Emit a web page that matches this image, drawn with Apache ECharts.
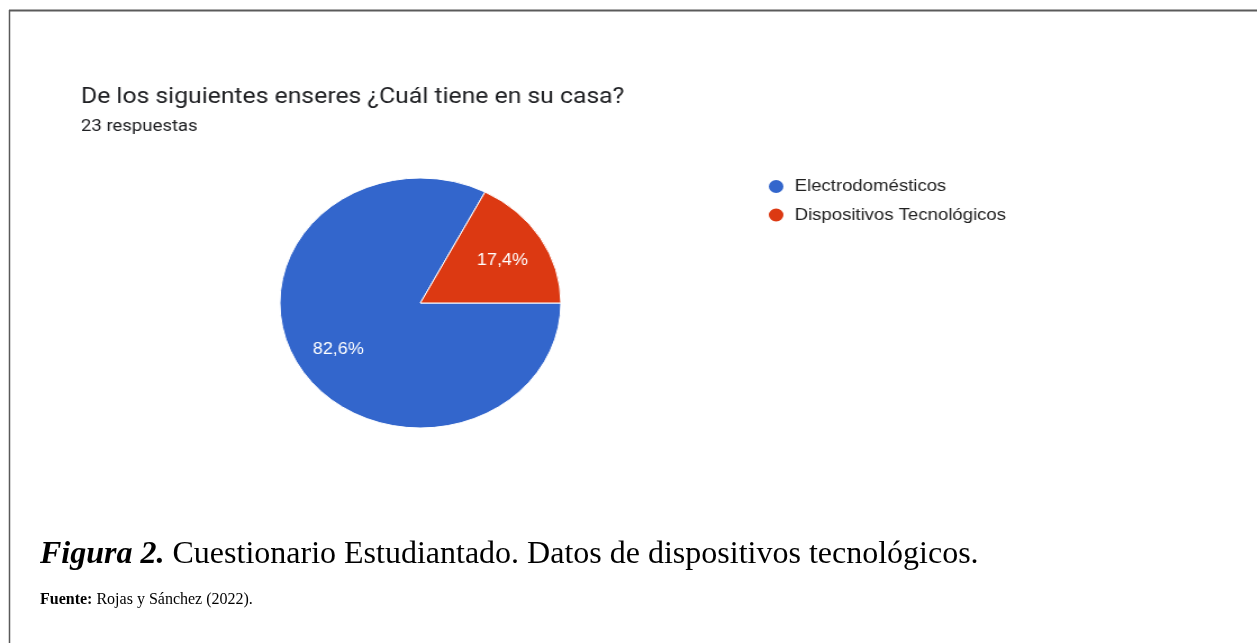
<!DOCTYPE html>
<html>
<head>
<meta charset="utf-8">
<script src="https://cdn.jsdelivr.net/npm/echarts@6/dist/echarts.min.js"></script>
<style>
  html, body { margin: 0; padding: 0; background: #fff; }
  #wrap { position: relative; width: 1257px; height: 643px; overflow: hidden; }
  #base { position: absolute; left: 0; top: 0; width: 1257px; height: 643px; }
  #chart { position: absolute; left: 0; top: 0; width: 1118px; height: 643px;
           transform: scaleX(1.124); transform-origin: 0 0; }
</style>
</head>
<body>
<div id="wrap">
  <div id="base"></div>
  <div id="chart"></div>
</div>
<script>
// ---- data ----
var chartTitle = 'De los siguientes enseres ¿Cuál tiene en su casa?';
var responsesText = '23 respuestas';
var categories = ['Electrodomésticos', 'Dispositivos Tecnológicos'];
var counts = [19, 4];
var sliceColors = ['#3366cc', '#dc3912'];
var captionLead = 'Figura 2.';
var captionText = ' Cuestionario Estudiantado. Datos de dispositivos tecnológicos.';
var sourceLead = 'Fuente:';
var sourceText = ' Rojas y Sánchez (2022).';

// ---- background layer: frame and caption ----
var base = echarts.init(document.getElementById('base'), null, { renderer: 'canvas' });
base.setOption({
  backgroundColor: '#ffffff',
  title: [
    {
      text: '{b|' + captionLead + '}' + captionText,
      left: 40, top: 539, padding: 0,
      textStyle: {
        fontFamily: 'Liberation Serif', fontSize: 32, fontWeight: 'normal', color: '#000',
        rich: { b: { fontFamily: 'Liberation Serif', fontSize: 32, fontWeight: 'bold', fontStyle: 'italic', color: '#000' } }
      }
    },
    {
      text: '{b|' + sourceLead + '}' + sourceText,
      left: 40, top: 592, padding: 0,
      textStyle: {
        fontFamily: 'Liberation Serif', fontSize: 16, fontWeight: 'normal', color: '#000',
        rich: { b: { fontFamily: 'Liberation Serif', fontSize: 16, fontWeight: 'bold', color: '#000' } }
      }
    }
  ],
  graphic: [
    { type: 'line', shape: { x1: 9, y1: 10.5, x2: 1257, y2: 10.5 }, style: { stroke: '#5a5a5a', lineWidth: 2 } },
    { type: 'line', shape: { x1: 9.5, y1: 10, x2: 9.5, y2: 643 }, style: { stroke: '#5a5a5a', lineWidth: 1.5 } }
  ]
});

// ---- chart layer ----
var total = counts.reduce(function (a, b) { return a + b; }, 0);
var pieData = categories.map(function (c, i) { return { name: c, value: counts[i] }; });

var chart = echarts.init(document.getElementById('chart'), null, { renderer: 'canvas' });
chart.setOption({
  backgroundColor: 'transparent',
  color: sliceColors,
  animation: false,
  title: [
    { text: chartTitle, left: 72, top: 86, padding: 0,
      textStyle: { fontFamily: 'Roboto', fontSize: 22, fontWeight: 'normal', color: '#202124' } },
    { text: responsesText, left: 72, top: 118, padding: 0,
      textStyle: { fontFamily: 'Roboto', fontSize: 16.5, fontWeight: 'normal', color: '#202124' } }
  ],
  legend: {
    orient: 'vertical',
    left: 682, top: 178, padding: 0,
    icon: 'circle', itemWidth: 15, itemHeight: 15, itemGap: 11.5,
    selectedMode: false,
    data: categories.map(function (c, i) { return { name: c, itemStyle: { color: sliceColors[i], opacity: 1 } }; }),
    textStyle: { fontFamily: 'Liberation Sans', fontSize: 16.5, color: '#222', padding: [0, 0, 0, 4] }
  },
  series: [
    {
      type: 'pie',
      center: [374, 303],
      radius: 125,
      startAngle: 0,
      clockwise: true,
      silent: true,
      label: { show: false },
      labelLine: { show: false },
      itemStyle: { borderColor: '#ffffff', borderWidth: 1 },
      data: pieData
    },
    {
      type: 'pie',
      center: [374, 303],
      radius: [40, 125],
      startAngle: 0,
      clockwise: true,
      silent: true,
      itemStyle: { color: 'rgba(0,0,0,0)', opacity: 0 },
      label: {
        show: true, position: 'inside', opacity: 1,
        fontFamily: 'Liberation Sans', fontSize: 16, color: '#ffffff',
        offset: [0, 2],
        formatter: function (p) { return (p.value / total * 100).toFixed(1).replace('.', ',') + '%'; }
      },
      labelLine: { show: false },
      data: pieData
    }
  ]
});
</script>
</body>
</html>
